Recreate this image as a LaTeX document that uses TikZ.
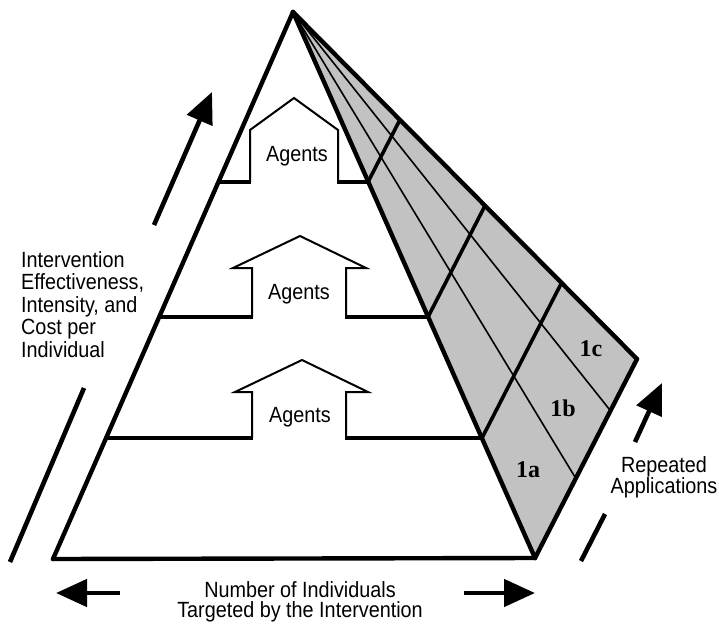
\documentclass[tikz,border=0pt]{standalone}
\usepackage{fontspec}
\setmainfont{Liberation Sans}[FakeStretch=0.9]
\newfontfamily\facefont{Liberation Serif}
\usetikzlibrary{arrows.meta,calc}
\tikzset{
  pedge/.style={line width=4.4pt, line cap=round},
  layer/.style={line width=3.2pt},
  crossline/.style={line width=3.6pt, line cap=round},
  thinline/.style={line width=1.6pt},
  house/.style={line width=2pt, line join=miter},
  bigarrow/.style={line width=4.6pt, -{Triangle[length=31pt,width=27pt]}},
  plainbar/.style={line width=4.6pt},
  lbl/.style={font=\fontsize{22}{22.5}\selectfont, inner sep=0pt},
  facelbl/.style={font=\facefont\bfseries\fontsize{24}{24}\selectfont, inner sep=0pt},
}
\begin{document}
\begin{tikzpicture}[x=1pt,y=-1pt]
\useasboundingbox (0,0) rectangle (719,623);
% main corners
\coordinate (A) at (293,12);
\coordinate (BL) at (53,559);
\coordinate (BR) at (535,558);
\coordinate (R) at (637,359);
% shaded side face
\fill[black!24] (A) -- (BR) -- (R) -- cycle;
% thin lines from apex
\coordinate (T1) at ($(BR)!0.40!(R)$);
\coordinate (T2) at ($(BR)!0.74!(R)$);
\draw[thinline] (A) -- (T1);
\draw[thinline] (A) -- (T2);
% layer points on the front edges
\coordinate (L1l) at (218.4,182);
\coordinate (L1r) at (368,182);
\coordinate (L2l) at (159,317);
\coordinate (L2r) at (428,317);
\coordinate (L3l) at (106,438);
\coordinate (L3r) at (482,438);
% cross lines on the side face
\coordinate (C1) at (399.9,119.8);
\coordinate (C2) at (485.0,205.7);
\coordinate (C3) at (561.5,282.9);
\draw[crossline] (L1r) -- (C1);
\draw[crossline] (L2r) -- (C2);
\draw[crossline] (L3r) -- (C3);
% pyramid outline
\draw[pedge] (A) -- (BL);
\draw[pedge] (BL) -- (BR);
\draw[pedge] (A) -- (BR);
\draw[pedge] (A) -- (R);
\draw[pedge] (R) -- (BR);
% houses (up arrows)
\draw[house] (250,182) -- (250,130) -- (294,98) -- (338,130) -- (338,182);
\draw[house] (252,317) -- (252,268) -- (233,268) -- (300,236) -- (366,268) -- (346,268) -- (346,317);
\draw[house] (252,438) -- (252,392) -- (235,392) -- (302,360) -- (368,392) -- (346,392) -- (346,438);
% layer lines
\draw[layer] (L1l) -- (251,182);
\draw[layer] (337,182) -- (L1r);
\draw[layer] (L2l) -- (253,317);
\draw[layer] (345,317) -- (L2r);
\draw[layer] (L3l) -- (253,438);
\draw[layer] (345,438) -- (L3r);
% agents labels
\node[lbl, anchor=base] (ag1) at (297,161) {Agents};
\node[lbl, anchor=base] (ag2) at (299,299) {Agents};
\node[lbl, anchor=base] (ag3) at (300,422) {Agents};
% face labels
\node[facelbl, anchor=base] (f1a) at (528,477) {1a};
\node[facelbl, anchor=base] (f1b) at (563,416) {1b};
\node[facelbl, anchor=base] (f1c) at (591,356) {1c};
% left axis
\coordinate (la0) at (154,225);
\coordinate (la1) at (212,92);
\draw[bigarrow] (la0) -- (la1);
\coordinate (lb0) at (10,562);
\coordinate (lb1) at (84,388);
\draw[plainbar] (lb0) -- (lb1);
\node[lbl, anchor=north west, align=left] (ltext) at (21,251.3)
  {Intervention\\Effectiveness,\\Intensity, and\\Cost per\\Individual};
% right axis
\coordinate (ra0) at (635,442);
\coordinate (ra1) at (662,383);
\draw[bigarrow] (ra0) -- (ra1);
\coordinate (rb0) at (581,561);
\coordinate (rb1) at (605,514);
\draw[plainbar] (rb0) -- (rb1);
\node[lbl, anchor=north, align=center, font=\fontsize{22}{21.6}\selectfont] (rtext) at (664,456)
  {Repeated\\Applications};
% bottom axis
\coordinate (ba0) at (120,593);
\coordinate (ba1) at (56,593);
\coordinate (bb0) at (464,593);
\coordinate (bb1) at (535,593);
\draw[bigarrow] (ba0) -- (ba1);
\draw[bigarrow] (bb0) -- (bb1);
\node[lbl, anchor=north, align=center, font=\fontsize{22}{20.5}\selectfont] (btext) at (300,581)
  {Number of Individuals\\Targeted by the Intervention};
\end{tikzpicture}
\end{document}
